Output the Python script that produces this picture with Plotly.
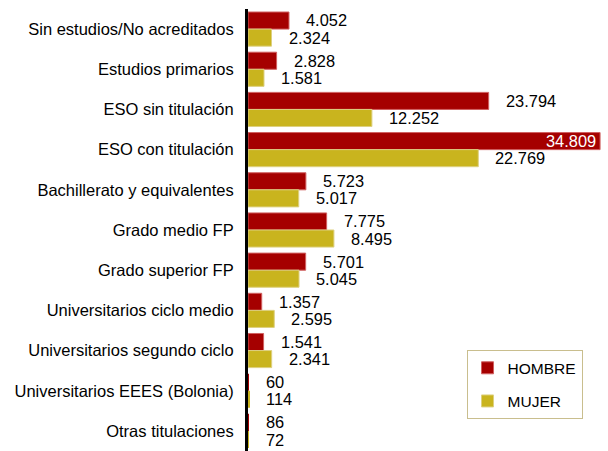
import plotly.graph_objects as go

categories = ["Sin estudios/No acreditados", "Estudios primarios", "ESO sin titulación",
              "ESO con titulación", "Bachillerato y equivalentes", "Grado medio FP",
              "Grado superior FP", "Universitarios ciclo medio", "Universitarios segundo ciclo",
              "Universitarios EEES (Bolonia)", "Otras titulaciones"]
hombre = [4052, 2828, 23794, 34809, 5723, 7775, 5701, 1357, 1541, 60, 86]
mujer = [2324, 1581, 12252, 22769, 5017, 8495, 5045, 2595, 2341, 114, 72]

C_H = "#A50000"
C_M = "#C9B41E"
XMAX = 35000
FONT = "Liberation Sans, Arial, sans-serif"

def fmt(v):
    return f"{v:,}".replace(",", ".")

def line_widths(vals):
    return [1 if v > 500 else 0 for v in vals]

fig = go.Figure()
fig.add_trace(go.Bar(y=categories, x=hombre, name="HOMBRE", orientation="h",
                     marker=dict(color=C_H, line=dict(color="#D06060", width=line_widths(hombre))),
                     legendgroup="h", hoverinfo="skip"))
fig.add_trace(go.Bar(y=categories, x=mujer, name="MUJER", orientation="h",
                     marker=dict(color=C_M, line=dict(color="#DDD080", width=line_widths(mujer))),
                     legendgroup="m", hoverinfo="skip"))

annotations = []
for vals, ys in ((hombre, 8.6), (mujer, -8.6)):
    for c, v in zip(categories, vals):
        inside = v > XMAX * 0.85
        annotations.append(dict(
            x=v, y=c, xref="x", yref="y", text=fmt(v), showarrow=False,
            xanchor="right" if inside else "left",
            xshift=-2 if inside else 15, yshift=ys,
            font=dict(family=FONT, size=16.4,
                      color="white" if inside else "black")))

fig.update_layout(
    width=608, height=451,
    margin=dict(l=248, r=6, t=9, b=0),
    paper_bgcolor="white", plot_bgcolor="white",
    barmode="group", bargap=0.15, bargroupgap=0,
    font=dict(family=FONT, size=16.5, color="black"),
    showlegend=True,
    legend=dict(x=0.945, y=0.228, xanchor="right", yanchor="top",
                bordercolor="#C9BE8E", borderwidth=1, bgcolor="white",
                font=dict(size=15.5), traceorder="grouped", tracegroupgap=10,
                itemwidth=30),
    annotations=annotations,
)
fig.update_xaxes(range=[0, XMAX], showgrid=False, zeroline=False, showticklabels=False,
                 showline=False, ticks="")
fig.update_yaxes(autorange="reversed", showgrid=False, zeroline=False,
                 showline=True, linecolor="black", linewidth=3, ticks="",
                 ticklabelstandoff=8, tickfont=dict(size=16.5), automargin=False)

fig.write_html("out.html", post_script="document.body.style.margin='0';",
               config={"displayModeBar": False})
